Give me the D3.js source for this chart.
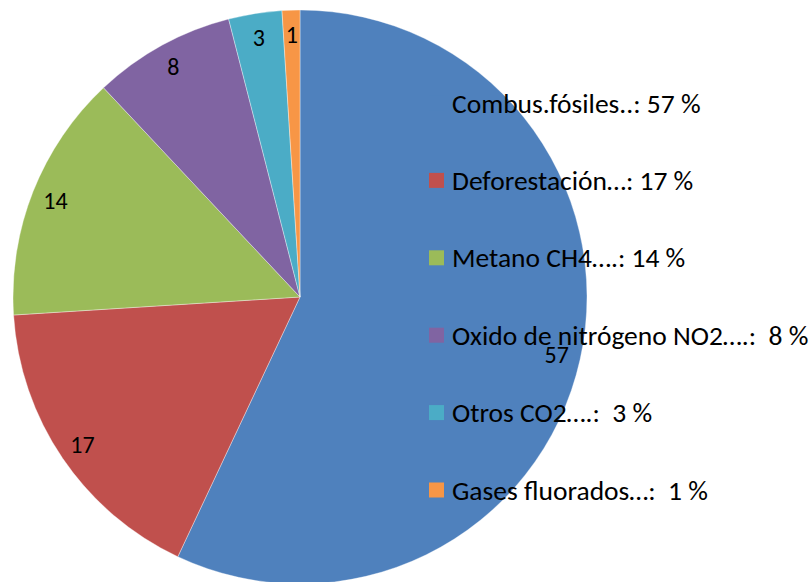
<!doctype html>
<html lang="es">
<head>
<meta charset="utf-8">
<title>Gases</title>
<script src="https://cdn.jsdelivr.net/npm/d3@7"></script>
<style>
  body { margin: 0; background: #fff; }
  svg text { font-family: Carlito, Lato, "Open Sans", sans-serif; fill: #000; white-space: pre; }
</style>
</head>
<body>
<svg id="chart" width="810" height="582"></svg>
<script>
// datos
var categories = ["Combus.fósiles..", "Deforestación…", "Metano CH4….", "Oxido de nitrógeno NO2….", "Otros CO2….", "Gases fluorados…"];
var values = [57, 17, 14, 8, 3, 1];
var legendText = ["Combus.fósiles..: 57 %", "Deforestación…: 17 %", "Metano CH4….: 14 %", "Oxido de nitrógeno NO2….:  8 %", "Otros CO2….:  3 %", "Gases fluorados…:  1 %"];
var colors = ["#4F81BD", "#C0504D", "#9BBB59", "#8064A2", "#4BACC6", "#F79646"];

var cx = 300, cy = 297, radius = 287;

var svg = d3.select("#chart");

var color = d3.scaleOrdinal().domain(categories).range(colors);

var pie = d3.pie().sort(null).value(function(d, i) { return values[i]; });
var arcs = pie(categories);

var arc = d3.arc().innerRadius(0).outerRadius(radius);
var labelArc = d3.arc().innerRadius(263).outerRadius(263);

var g = svg.append("g").attr("transform", "translate(" + cx + "," + cy + ")");

g.selectAll("path.slice")
  .data(arcs)
  .enter().append("path")
  .attr("class", "slice")
  .attr("d", arc)
  .style("fill", function(d) { return color(d.data); })
  .style("stroke", "rgba(255,255,255,0.6)")
  .style("stroke-width", 0.6);

g.selectAll("text.lbl")
  .data(arcs)
  .enter().append("text")
  .attr("class", "lbl")
  .attr("transform", function(d) { return "translate(" + labelArc.centroid(d) + ")"; })
  .attr("text-anchor", "middle")
  .attr("dy", "0.35em")
  .style("font-size", "24px")
  .text(function(d) { return d.value; });

// leyenda
var legendY = d3.scalePoint().domain(categories).range([103, 490]);

var legend = svg.selectAll("g.leg")
  .data(categories)
  .enter().append("g")
  .attr("class", "leg")
  .attr("transform", function(d) { return "translate(429," + legendY(d) + ")"; });

legend.append("rect")
  .attr("x", 0)
  .attr("y", -7.5)
  .attr("width", 15)
  .attr("height", 15)
  .style("fill", function(d) { return color(d); });

legend.append("text")
  .attr("x", 23)
  .attr("dy", "0.35em")
  .style("font-size", "27.5px")
  .text(function(d, i) { return legendText[i]; });
</script>
</body>
</html>
